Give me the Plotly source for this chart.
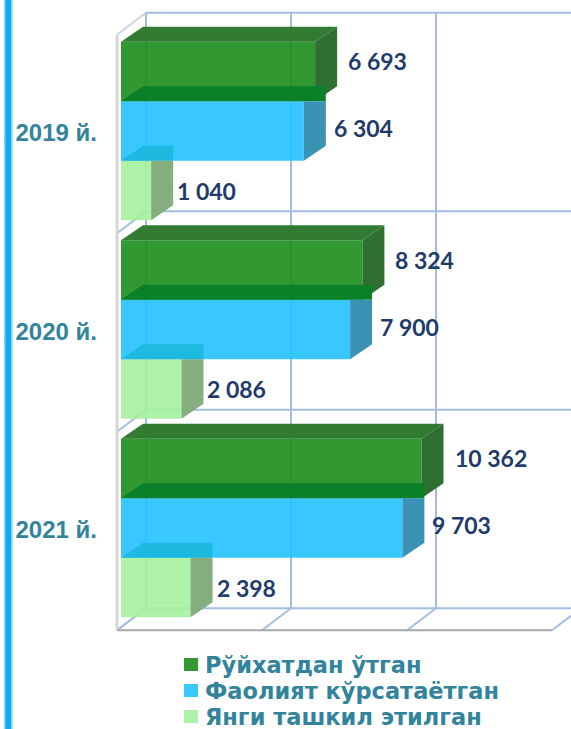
import plotly.graph_objects as go

# ---- data ----
years = ["2019 й.", "2020 й.", "2021 й."]
series_names = ["Рўйхатдан ўтган", "Фаолият кўрсатаётган", "Янги ташкил этилган"]
registered = [6693, 8324, 10362]
operating = [6304, 7900, 9703]
newly_created = [1040, 2086, 2398]
value_ticks = [0, 5000, 10000, 15000]

series_values = [registered, operating, newly_created]

# ---- style ----
W, H = 571, 729
front_colors = ["rgba(28,142,28,0.9)", "rgba(34,194,255,0.9)", "rgba(165,241,158,0.9)"]
top_colors = ["#327B33", "#0A8029", "#1EB9E1"]
side_colors = ["#2F6F31", "#3A93B5", "#85AE7E"]
legend_colors = ["#339933", "#38C8FF", "#AEF2A8"]
label_color = "#1F3B6B"
teal = "#31849B"
grid_color = "#A3BDE2"

# pixel <-> data scale of the pseudo-3D projection
PX = 5000 / 145          # value units per pixel
PY = 1 / 198.5           # category units per pixel (y axis reversed)
X0_PIX, Y0_PIX = 121, 133
DOMAIN_LEFT = 110
BAR_H = 0.3
bar_offsets = [-0.31, -0.01, 0.29]
BAR_DX, BAR_DY = 22 * PX, -15 * PY        # depth of a bar
FRONT = (-4 * PX, 1 * PY)                 # front plane of the walls
BACK = (25 * PX, -21 * PY)                # back plane of the walls
label_xshift = [31, 28, 24]
label_yshift = [10, 3, 0]

cats = list(range(len(years)))
bounds = [c - 0.5 for c in cats] + [cats[-1] + 0.5]
xmax = value_ticks[-1]

fig = go.Figure()

# front faces of the bars
for s, vals in enumerate(series_values):
    fig.add_trace(go.Bar(
        orientation="h",
        x=vals,
        y=[c + bar_offsets[s] for c in cats],
        width=BAR_H,
        marker=dict(color=front_colors[s], line=dict(width=0)),
        name=series_names[s],
        showlegend=False,
        hoverinfo="x",
    ))


def poly_trace(xs, ys, color):
    return go.Scatter(x=xs, y=ys, mode="lines", fill="toself", fillcolor=color,
                      line=dict(width=0), hoverinfo="skip", showlegend=False)


# top and side faces
for s, vals in enumerate(series_values):
    tx, ty, sx, sy = [], [], [], []
    for c, v in zip(cats, vals):
        yc = c + bar_offsets[s]
        yt, yb = yc - BAR_H / 2, yc + BAR_H / 2
        if s == 0:
            tx += [0, v, v + BAR_DX, BAR_DX, 0, None]
            ty += [yt, yt, yt + BAR_DY, yt + BAR_DY, yt, None]
            sx += [v, v, v + BAR_DX, v + BAR_DX, v, None]
            sy += [yt, yb, yb + BAR_DY, yt + BAR_DY, yt, None]
        else:
            tx += [0, v + BAR_DX, v + BAR_DX, BAR_DX, 0, None]
            ty += [yt, yt, yt + BAR_DY, yt + BAR_DY, yt, None]
            sx += [v, v, v + BAR_DX, v + BAR_DX, v, None]
            sy += [yt, yb, yb + BAR_DY, yt, yt, None]
    fig.add_trace(poly_trace(tx, ty, top_colors[s]))
    fig.add_trace(poly_trace(sx, sy, side_colors[s]))

# value labels
for s, vals in enumerate(series_values):
    for c, v in zip(cats, vals):
        fig.add_annotation(
            x=v, y=c + bar_offsets[s], xref="x", yref="y",
            text=f"{v:,}".replace(",", " "), showarrow=False,
            xanchor="left", yanchor="middle",
            xshift=label_xshift[s], yshift=label_yshift[s],
            font=dict(family="Lato", size=23, color=label_color, weight="bold"),
        )

# walls, floor and gridlines
shapes = []


def seg(x0, y0, x1, y1, color=grid_color, width=2):
    shapes.append(dict(type="line", xref="x", yref="y", x0=x0, y0=y0, x1=x1, y1=y1,
                       line=dict(color=color, width=width), layer="below"))


fx, fy = FRONT
bx, by = BACK
for b in bounds:
    seg(bx, b + by, xmax + bx, b + by)                       # back wall horizontals
    seg(fx, b + fy, bx, b + by,
        color="#C9D3E3" if b == bounds[0] else grid_color)   # left wall diagonals
for t in value_ticks:
    seg(t + bx, bounds[0] + by, t + bx, bounds[-1] + by)     # back wall verticals
    seg(t + fx, bounds[-1] + fy, t + bx, bounds[-1] + by)    # floor diagonals
seg(fx, bounds[0] + fy, fx, bounds[-1] + fy, color="#D6D6D6", width=3)
seg(fx, bounds[-1] + fy, xmax + fx, bounds[-1] + fy, color="#A6A6A6", width=2)

# accent stripe on the left edge
shapes.append(dict(type="rect", xref="paper", yref="paper", x0=4 / W, x1=12.5 / W,
                   y0=0, y1=1, fillcolor="#7AD5F8", line=dict(width=0), layer="below"))
shapes.append(dict(type="rect", xref="paper", yref="paper", x0=5.5 / W, x1=11 / W,
                   y0=0, y1=1, fillcolor="#12AAEE", line=dict(width=0), layer="below"))

# legend
legend_rows = [664.5, 690.5, 716.5]
for s, name in enumerate(series_names):
    yc = legend_rows[s]
    shapes.append(dict(type="rect", xref="paper", yref="paper",
                       x0=184 / W, x1=198 / W, y0=1 - (yc + 6.5) / H, y1=1 - (yc - 6.5) / H,
                       fillcolor=legend_colors[s], line=dict(width=0)))
    fig.add_annotation(
        x=203 / W, y=1 - yc / H, xref="paper", yref="paper",
        text=name, showarrow=False, xanchor="left", yanchor="middle",
        font=dict(family="DejaVu Sans", size=22.5, color=teal, weight="bold"),
    )

fig.update_layout(
    width=W, height=H, autosize=False,
    margin=dict(l=0, r=0, t=0, b=0),
    paper_bgcolor="white", plot_bgcolor="rgba(0,0,0,0)",
    barmode="overlay", showlegend=False,
    shapes=shapes,
    xaxis=dict(domain=[DOMAIN_LEFT / W, 1],
               range=[(DOMAIN_LEFT - X0_PIX) * PX, (W - X0_PIX) * PX],
               showgrid=False, zeroline=False, showline=False, showticklabels=False,
               fixedrange=True),
    yaxis=dict(range=[(H - Y0_PIX) * PY, -Y0_PIX * PY],
               tickvals=cats, ticktext=years, ticks="",
               tickfont=dict(family="Liberation Sans", size=24, color=teal, weight="bold"),
               ticklabelstandoff=12,
               showgrid=False, zeroline=False, showline=False, automargin=False,
               fixedrange=True),
)

fig.write_html("out.html")
